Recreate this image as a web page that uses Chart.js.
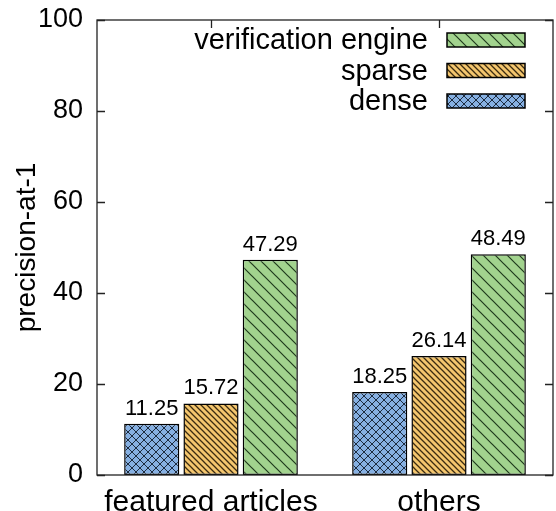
<!DOCTYPE html>
<html>
<head>
<meta charset="utf-8">
<script src="https://cdn.jsdelivr.net/npm/chart.js@4"></script>
<style>
  html, body { margin: 0; padding: 0; background: #ffffff; }
  #wrap { width: 556px; height: 511px; }
</style>
</head>
<body>
<div id="wrap"><canvas id="c" width="556" height="511"></canvas></div>
<script>
// ---- data ----
const categories = ['featured articles', 'others'];
const seriesNames = ['dense', 'sparse', 'verification engine'];
const denseValues = [11.25, 18.25];
const sparseValues = [15.72, 26.14];
const engineValues = [47.29, 48.49];
const yTicks = [0, 20, 40, 60, 80, 100];
const yTitle = 'precision-at-1';

// ---- patterns ----
function makePattern(bg, lineColor, type, p, lw) {
  const c = document.createElement('canvas');
  c.width = p; c.height = p;
  const g = c.getContext('2d');
  g.fillStyle = bg;
  g.fillRect(0, 0, p, p);
  g.strokeStyle = lineColor;
  g.lineWidth = lw;
  g.beginPath();
  for (let k = -1; k <= 1; k++) {
    if (type === 'back' || type === 'cross') {
      g.moveTo(k * p - p, -p);
      g.lineTo(k * p + 2 * p, 2 * p);
    }
    if (type === 'fwd' || type === 'cross') {
      g.moveTo(k * p + 2 * p, -p);
      g.lineTo(k * p - p, 2 * p);
    }
  }
  g.stroke();
  return document.getElementById('c').getContext('2d').createPattern(c, 'repeat');
}

const patDense = makePattern('#86b0e2', '#1d2c40', 'cross', 8, 1);
const patSparse = makePattern('#f4c66e', '#3b2b10', 'back', 6, 1.3);
const patEngine = makePattern('#a2d38e', '#1f3a1c', 'back', 12, 1.2);
const patterns = [patDense, patSparse, patEngine];

const FONT = "'Liberation Sans', Arial, Helvetica, sans-serif";

const deco = {
  id: 'deco',
  afterDatasetsDraw(chart) {
    const ctx = chart.ctx;
    const a = chart.chartArea;
    const ys = chart.scales.y, xs = chart.scales.x;
    ctx.save();
    // border
    ctx.strokeStyle = '#222';
    ctx.lineWidth = 1.3;
    ctx.strokeRect(a.left, a.top, a.right - a.left, a.bottom - a.top);
    // inward ticks
    ctx.beginPath();
    yTicks.forEach(v => {
      const y = Math.round(ys.getPixelForValue(v)) + 0.5;
      ctx.moveTo(a.left, y); ctx.lineTo(a.left + 8, y);
      ctx.moveTo(a.right, y); ctx.lineTo(a.right - 8, y);
    });
    categories.forEach((c, i) => {
      const x = Math.round(xs.getPixelForValue(i)) + 0.5;
      ctx.moveTo(x, a.top); ctx.lineTo(x, a.top + 8);
    });
    ctx.stroke();
    // value labels
    ctx.fillStyle = '#000';
    ctx.font = '22px ' + FONT;
    ctx.textAlign = 'center';
    ctx.textBaseline = 'alphabetic';
    chart.data.datasets.forEach((ds, di) => {
      const meta = chart.getDatasetMeta(di);
      meta.data.forEach((el, i) => {
        ctx.fillText(ds.data[i].toFixed(2), el.x, el.y - 9);
      });
    });
    // legend (reverse order)
    ctx.font = '29px ' + FONT;
    ctx.textAlign = 'right';
    ctx.textBaseline = 'middle';
    const n = chart.data.datasets.length;
    for (let r = 0; r < n; r++) {
      const di = n - 1 - r;
      const ds = chart.data.datasets[di];
      const cy = 40 + r * 30.5;
      ctx.fillStyle = '#000';
      ctx.fillText(ds.label, 428, cy + 1);
      ctx.fillStyle = ds.backgroundColor;
      ctx.fillRect(447, cy - 7, 78, 14);
      ctx.strokeStyle = '#000';
      ctx.lineWidth = 1.5;
      ctx.strokeRect(447, cy - 7, 78, 14);
    }
    ctx.restore();
  }
};

const valueSets = [denseValues, sparseValues, engineValues];
const target = { left: 97, top: 20, right: 553, bottom: 475 };
const pad = { top: 20, right: 3, left: 0, bottom: 0 };
const fit = { yWidth: 97, xHeight: 36 };

const chart = new Chart(document.getElementById('c'), {
  type: 'bar',
  data: {
    labels: categories,
    datasets: seriesNames.map((name, i) => ({
      label: name,
      data: valueSets[i],
      backgroundColor: patterns[i],
      borderColor: '#000',
      borderWidth: 1.5,
      borderSkipped: false,
      categoryPercentage: 0.78,
      barPercentage: 0.93
    }))
  },
  options: {
    responsive: false,
    animation: false,
    devicePixelRatio: 1,
    layout: { padding: pad },
    plugins: { legend: { display: false }, tooltip: { enabled: false } },
    scales: {
      x: {
        grid: { display: false },
        border: { display: false },
        ticks: { color: '#000', font: { family: FONT, size: 30 }, padding: 2, maxRotation: 0 },
        afterFit(s) { s.height = fit.xHeight; s.paddingLeft = 0; s.paddingRight = 0; }
      },
      y: {
        min: 0, max: 100,
        grid: { display: false, drawTicks: false },
        border: { display: false },
        ticks: { stepSize: 20, color: '#000', font: { family: FONT, size: 27 }, padding: 14 },
        title: { display: true, text: yTitle, color: '#000', font: { family: FONT, size: 28 }, padding: { top: 10, bottom: 0 } },
        afterFit(s) { s.width = fit.yWidth; s.paddingTop = 0; s.paddingBottom = 0; }
      }
    }
  },
  plugins: [deco]
});

// nudge the layout so the plot frame lands where the reference has it
for (let i = 0; i < 3; i++) {
  const a = chart.chartArea;
  pad.top += target.top - a.top;
  pad.right += a.right - target.right;
  fit.yWidth += target.left - a.left;
  fit.xHeight += a.bottom - target.bottom;
  chart.options.layout.padding = Object.assign({}, pad);
  chart.update();
}
</script>
</body>
</html>
